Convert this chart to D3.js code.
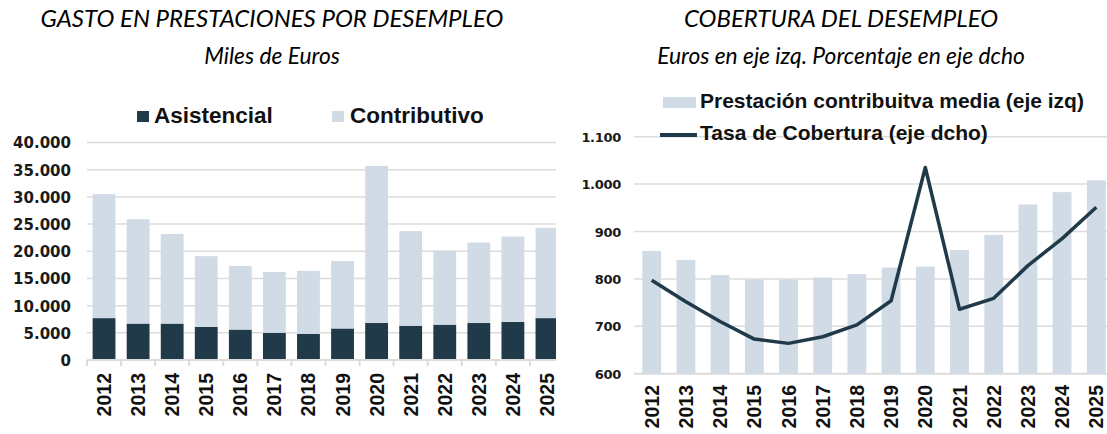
<!DOCTYPE html>
<html><head><meta charset="utf-8">
<script src="https://cdn.jsdelivr.net/npm/d3@7"></script>
<style>
html,body{margin:0;padding:0;background:#fff;}
svg{display:block;}
</style></head>
<body>
<svg id="c" width="1107" height="434"></svg>
<script>
// ---------- DATA ----------
const years = ["2012","2013","2014","2015","2016","2017","2018","2019","2020","2021","2022","2023","2024","2025"];
// Left chart: Gasto en prestaciones por desempleo (miles de euros)
const asistencial  = [7700, 6700, 6700, 6100, 5600, 5000, 4800, 5800, 6800, 6300, 6500, 6800, 7000, 7700];
const contributivo = [22800,19200,16500,13000,11700,11200,11600,12400,28900,17400,13600,14800,15700,16600];
const leftTicks = [0,5000,10000,15000,20000,25000,30000,35000,40000];
// Right chart: Cobertura del desempleo
const prestacionMedia = [859, 840, 808, 799, 799, 803, 810, 824, 826, 861, 893, 957, 983, 1008];
const tasaCobertura   = [797, 752, 710, 673, 664, 678, 703, 754, 1035, 736, 759, 828, 885, 951];
const rightTicks = [600,700,800,900,1000,1100];

// ---------- STYLE ----------
const DARK = "#203A4A", LIGHT = "#D0DBE5", GRID = "#DCDCDC";
const fmt = d3.formatLocale({decimal:",", thousands:".", grouping:[3], currency:["","€"]}).format(",d");

const svg = d3.select("#c");

// Titles
const titleFont = "Lato, 'Open Sans', sans-serif";
svg.append("text").attr("x",272).attr("y",27).attr("text-anchor","middle")
  .attr("font-family",titleFont).attr("font-style","italic").attr("font-size",24)
  .text("GASTO EN PRESTACIONES POR DESEMPLEO");
svg.append("text").attr("x",272).attr("y",64).attr("text-anchor","middle")
  .attr("font-family",titleFont).attr("font-style","italic").attr("font-size",22.8)
  .text("Miles de Euros");
svg.append("text").attr("x",841).attr("y",27).attr("text-anchor","middle")
  .attr("font-family",titleFont).attr("font-style","italic").attr("font-size",24)
  .text("COBERTURA DEL DESEMPLEO");
svg.append("text").attr("x",841).attr("y",64).attr("text-anchor","middle")
  .attr("font-family",titleFont).attr("font-style","italic").attr("font-size",22.8)
  .text("Euros en eje izq. Porcentaje en eje dcho");

// ---------- LEFT CHART ----------
const xL = d3.scaleBand().domain(years).range([87,564]).paddingInner(0.33).paddingOuter(0.165);
const yL = d3.scaleLinear().domain([0,40000]).range([360,142.5]);
const gL = svg.append("g");
svg.append("clipPath").attr("id","clipL").append("rect").attr("x",80).attr("y",100).attr("width",476).attr("height",300);

gL.selectAll("line.grid").data(leftTicks).join("line")
  .attr("x1",87).attr("x2",556).attr("y1",d=>yL(d)).attr("y2",d=>yL(d))
  .attr("stroke",GRID).attr("stroke-width",1.5);

const yAxisL = d3.axisLeft(yL).tickValues(leftTicks).tickFormat(fmt).tickSize(0).tickPadding(0);
gL.append("g").attr("transform","translate(71,0)").call(yAxisL)
  .call(g=>g.select(".domain").remove())
  .selectAll("text").attr("font-family","'DejaVu Sans'").attr("font-weight","bold")
  .attr("font-size",15).attr("fill","#1a1a1a").attr("dy","0.36em");

const stackData = years.map((y,i)=>({year:y, asis:asistencial[i], contr:contributivo[i]}));
const stack = d3.stack().keys(["asis","contr"])(stackData);
const colors = {asis:DARK, contr:LIGHT};
const bars = gL.append("g").attr("clip-path","url(#clipL)");
stack.forEach(s=>{
  bars.selectAll(null).data(s).join("rect")
    .attr("x",d=>xL(d.data.year)).attr("width",xL.bandwidth())
    .attr("y",d=>yL(d[1])).attr("height",d=>yL(d[0])-yL(d[1]))
    .attr("fill",colors[s.key]);
});

// x axis baseline with ticks between categories
gL.append("line").attr("x1",87).attr("x2",556).attr("y1",360).attr("y2",360).attr("stroke",GRID).attr("stroke-width",2);
const bounds = years.map(y=>xL(y)-xL.step()*xL.paddingInner()/2);
gL.selectAll("line.tk").data(bounds).join("line")
  .attr("x1",d=>d).attr("x2",d=>d).attr("y1",360).attr("y2",366)
  .attr("stroke",GRID).attr("stroke-width",2);
gL.selectAll("text.xl").data(years).join("text")
  .attr("transform",d=>`translate(${xL(d)+xL.bandwidth()/2+7},373) rotate(-90)`)
  .attr("text-anchor","end").attr("font-family","'Liberation Sans', Arial, sans-serif")
  .attr("font-weight","bold").attr("font-size",19.5).attr("fill","#111").text(d=>d);

// legend left
const legL = svg.append("g").attr("font-family","'Liberation Sans', Arial, sans-serif").attr("font-weight","bold").attr("font-size",22.5).attr("fill","#111");
legL.append("rect").attr("x",137).attr("y",111).attr("width",12).attr("height",11).attr("fill",DARK);
legL.append("text").attr("x",154).attr("y",123).text("Asistencial");
legL.append("rect").attr("x",332).attr("y",111).attr("width",12).attr("height",11).attr("fill",LIGHT);
legL.append("text").attr("x",350).attr("y",123).text("Contributivo");

// ---------- RIGHT CHART ----------
const xR = d3.scaleBand().domain(years).range([634.6,1113.4]).paddingInner(0.45).paddingOuter(0.225);
const yR = d3.scaleLinear().domain([600,1100]).range([373.7,136.7]);
const gR = svg.append("g");
gR.selectAll("line.grid").data(rightTicks).join("line")
  .attr("x1",634).attr("x2",1107).attr("y1",d=>yR(d)).attr("y2",d=>yR(d))
  .attr("stroke",GRID).attr("stroke-width",d=>d===600?2:1.5);

const yAxisR = d3.axisLeft(yR).tickValues(rightTicks).tickFormat(fmt).tickSize(0).tickPadding(0);
gR.append("g").attr("transform","translate(621,0)").call(yAxisR)
  .call(g=>g.select(".domain").remove())
  .selectAll("text").attr("font-family","'DejaVu Sans'").attr("font-weight","bold")
  .attr("font-size",13).attr("fill","#1a1a1a").attr("dy","0.36em").attr("letter-spacing",-0.3);

gR.selectAll("rect.b").data(years).join("rect")
  .attr("x",d=>xR(d)).attr("width",xR.bandwidth())
  .attr("y",(d,i)=>yR(prestacionMedia[i])).attr("height",(d,i)=>yR(600)-yR(prestacionMedia[i]))
  .attr("fill",LIGHT);

const line = d3.line().x((d,i)=>xR(years[i])+xR.bandwidth()/2).y(d=>yR(d));
gR.append("path").datum(tasaCobertura).attr("d",line)
  .attr("fill","none").attr("stroke",DARK).attr("stroke-width",3.5).attr("stroke-linejoin","round");

gR.selectAll("text.xl").data(years).join("text")
  .attr("transform",d=>`translate(${xR(d)+xR.bandwidth()/2+7},385) rotate(-90)`)
  .attr("text-anchor","end").attr("font-family","'Liberation Sans', Arial, sans-serif")
  .attr("font-weight","bold").attr("font-size",19.5).attr("fill","#111").text(d=>d);

// legend right
const legR = svg.append("g").attr("font-family","'Liberation Sans', Arial, sans-serif").attr("font-weight","bold").attr("font-size",21).attr("fill","#111");
legR.append("rect").attr("x",663).attr("y",97).attr("width",33).attr("height",11).attr("fill",LIGHT);
legR.append("text").attr("x",700).attr("y",108).text("Prestación contribuitva media (eje izq)");
legR.append("line").attr("x1",660).attr("x2",697).attr("y1",135).attr("y2",135).attr("stroke",DARK).attr("stroke-width",4);
legR.append("text").attr("x",700).attr("y",140).text("Tasa de Cobertura (eje dcho)");
</script>
</body></html>
